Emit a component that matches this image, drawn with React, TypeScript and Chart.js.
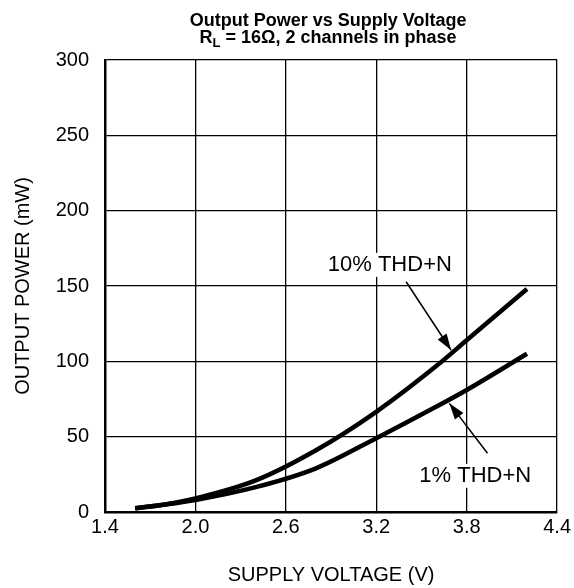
import React, { useEffect, useRef } from "react";
import { Chart, registerables } from "chart.js";

Chart.register(...registerables);

const voltage10 = [1.6, 1.8, 2.0, 2.4, 2.8, 3.2, 3.6, 3.8, 4.2];
const power10 = [2.5, 5, 9, 21, 41, 66.5, 97, 114, 148];
const voltage1 = [1.6, 1.8, 2.0, 2.4, 2.8, 3.2, 3.6, 3.8, 4.2];
const power1 = [2.5, 5, 8, 16.5, 29, 49, 70, 81, 105];
const xTicks = [1.4, 2.0, 2.6, 3.2, 3.8, 4.4];
const yTicks = [0, 50, 100, 150, 200, 250, 300];
const titleLine1 = "Output Power vs Supply Voltage";
const titleLine2Parts = ["R", "L", " = 16Ω, 2 channels in phase"];
const labels = [
  { text: "10% THD+N", x: 3.29, y: 164, ax: 3.398, ay: 152.8, bx: 3.696, by: 107.5 },
  { text: "1% THD+N", x: 3.857, y: 24, ax: 3.938, ay: 39, bx: 3.685, by: 72.1 },
];

const FONT = "'Liberation Sans', Arial, Helvetica, sans-serif";

const overlayPlugin = {
  id: "overlay",
  afterDraw(chart: any) {
    const { ctx, chartArea, scales } = chart;
    const xs = scales.x;
    const ys = scales.y;
    ctx.save();
    // title
    const cx = (chartArea.left + chartArea.right) / 2 - 3;
    ctx.fillStyle = "#000";
    ctx.textBaseline = "alphabetic";
    ctx.font = `bold 18px ${FONT}`;
    ctx.textAlign = "center";
    ctx.fillText(titleLine1, cx, 26);
    const [r, sub, rest] = titleLine2Parts;
    const wR = ctx.measureText(r).width;
    const wRest = ctx.measureText(rest).width;
    ctx.font = `bold 13px ${FONT}`;
    const wSub = ctx.measureText(sub).width;
    const total = wR + wSub + wRest;
    let x0 = cx - total / 2;
    ctx.textAlign = "left";
    ctx.font = `bold 18px ${FONT}`;
    ctx.fillText(r, x0, 43);
    ctx.font = `bold 13px ${FONT}`;
    ctx.fillText(sub, x0 + wR, 47);
    ctx.font = `bold 18px ${FONT}`;
    ctx.fillText(rest, x0 + wR + wSub, 43);

    // annotations
    ctx.font = `22px ${FONT}`;
    ctx.textAlign = "center";
    ctx.textBaseline = "middle";
    for (const l of labels) {
      const px = xs.getPixelForValue(l.x);
      const py = ys.getPixelForValue(l.y);
      const w = ctx.measureText(l.text).width;
      ctx.fillStyle = "#fff";
      ctx.fillRect(px - w / 2 - 2, py - 12, w + 4, 24);
      ctx.fillStyle = "#000";
      ctx.fillText(l.text, px, py);
      const ax = xs.getPixelForValue(l.ax);
      const ay = ys.getPixelForValue(l.ay);
      const bx = xs.getPixelForValue(l.bx);
      const by = ys.getPixelForValue(l.by);
      ctx.strokeStyle = "#000";
      ctx.lineWidth = 1.5;
      ctx.beginPath();
      ctx.moveTo(ax, ay);
      ctx.lineTo(bx, by);
      ctx.stroke();
      const ang = Math.atan2(by - ay, bx - ax);
      const len = 17;
      const half = 0.32;
      ctx.beginPath();
      ctx.moveTo(bx, by);
      ctx.lineTo(bx - len * Math.cos(ang - half), by - len * Math.sin(ang - half));
      ctx.lineTo(bx - len * Math.cos(ang + half), by - len * Math.sin(ang + half));
      ctx.closePath();
      ctx.fill();
    }
    ctx.restore();
  },
};

export default function App() {
  const ref = useRef<HTMLCanvasElement | null>(null);
  useEffect(() => {
    if (!ref.current) return;
    const chart = new Chart(ref.current, {
      type: "line",
      data: {
        datasets: [
          {
            label: "10% THD+N",
            data: voltage10.map((v, i) => ({ x: v, y: power10[i] })),
            borderColor: "#000",
            borderWidth: 4.5,
            pointRadius: 0,
            cubicInterpolationMode: "monotone",
            borderCapStyle: "butt",
          },
          {
            label: "1% THD+N",
            data: voltage1.map((v, i) => ({ x: v, y: power1[i] })),
            borderColor: "#000",
            borderWidth: 4.5,
            pointRadius: 0,
            cubicInterpolationMode: "monotone",
            borderCapStyle: "butt",
          },
        ],
      },
      options: {
        animation: false,
        responsive: false,
        maintainAspectRatio: false,
        layout: { padding: { top: 60, right: 16, bottom: 0, left: 0 } },
        plugins: { legend: { display: false }, tooltip: { enabled: false }, title: { display: false } },
        scales: {
          x: {
            type: "linear",
            min: 1.4,
            max: 4.4,
            afterFit: (s: any) => { s.height = 76; },
            afterBuildTicks: (s: any) => { s.ticks = xTicks.map((v) => ({ value: v })); },
            ticks: {
              color: "#000",
              font: { family: FONT, size: 20 },
              padding: 3,
              maxRotation: 0,
              autoSkip: false,
              callback: (v: any) => Number(v).toFixed(1),
            },
            grid: { color: "#000", lineWidth: 1.3, drawTicks: false },
            border: { color: "#000", width: 2.5 },
            title: {
              display: true,
              text: "SUPPLY VOLTAGE (V)",
              color: "#000",
              font: { family: FONT, size: 20 },
              padding: { top: 0, bottom: 1 },
            },
          },
          y: {
            type: "linear",
            min: 0,
            max: 300,
            afterFit: (s: any) => { s.width = 105; },
            afterBuildTicks: (s: any) => { s.ticks = yTicks.map((v) => ({ value: v })); },
            ticks: {
              color: "#000",
              font: { family: FONT, size: 20 },
              padding: 16,
              autoSkip: false,
            },
            grid: { color: "#000", lineWidth: 1.3, drawTicks: false },
            border: { color: "#000", width: 2.5 },
            title: {
              display: true,
              text: "OUTPUT POWER (mW)",
              color: "#000",
              font: { family: FONT, size: 20 },
              padding: { top: 11, bottom: 0 },
            },
          },
        },
      },
      plugins: [overlayPlugin],
    } as any);
    return () => chart.destroy();
  }, []);
  return (
    <div style={{ position: "absolute", left: 0, top: 0, width: 574, height: 588, background: "#fff" }}>
      <canvas ref={ref} width={574} height={588} style={{ width: 574, height: 588 }} />
    </div>
  );
}
